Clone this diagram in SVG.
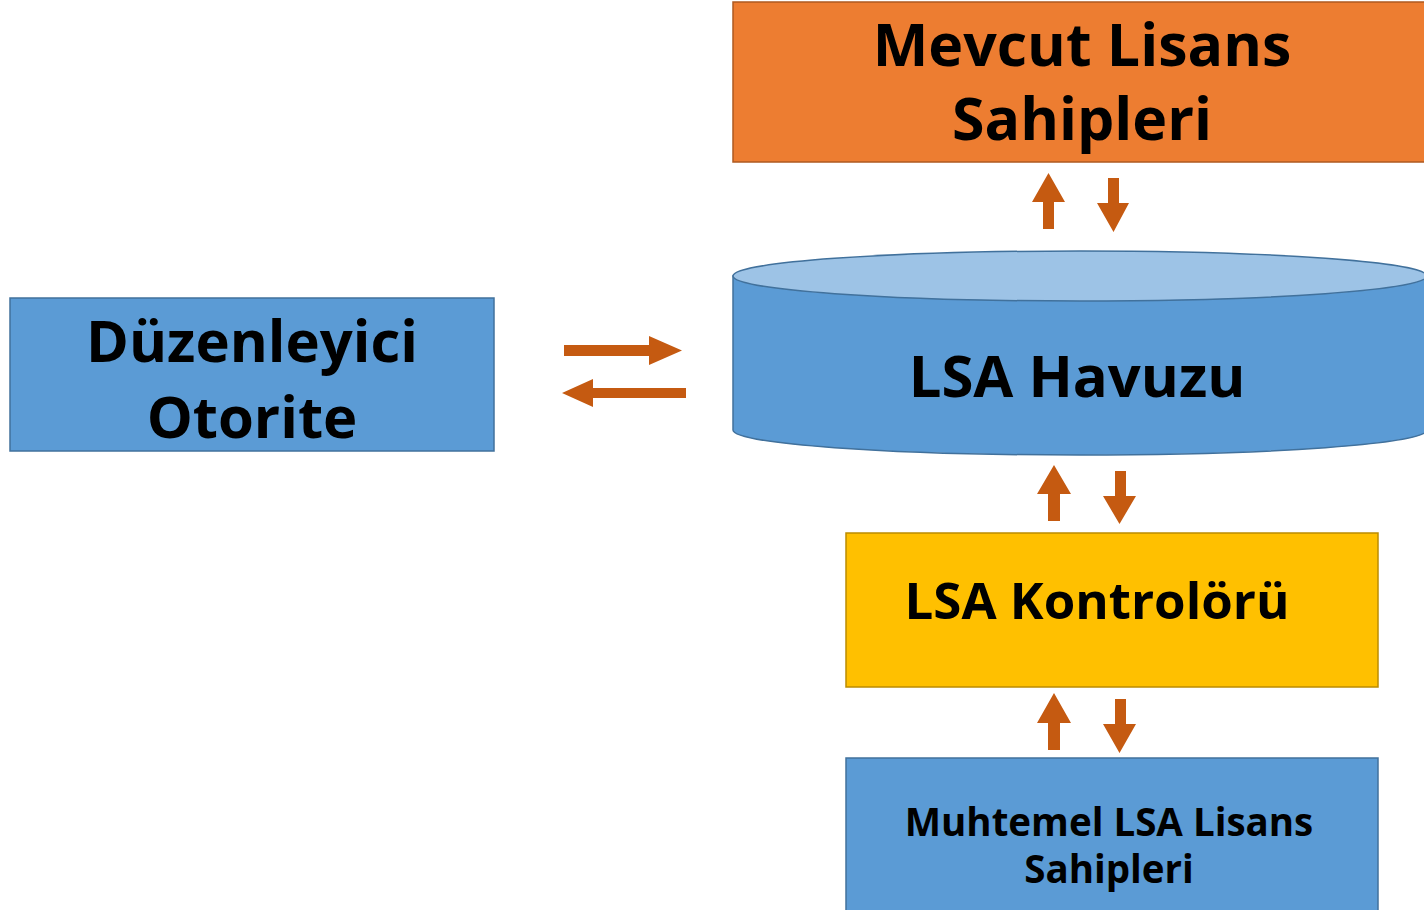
<svg xmlns="http://www.w3.org/2000/svg" width="1424" height="910" viewBox="0 0 1424 910">
<style>
.t{font-family:"Open Sans","Liberation Sans",sans-serif;font-weight:700;fill:#000;text-anchor:middle}
.blue{fill:#5B9BD5;stroke:#41719C;stroke-width:1.5}
.arr{fill:#C55A11}
</style>
<rect width="1424" height="910" fill="#fff"/>
<g id="mevcut">
<rect x="733" y="2" width="700" height="160" fill="#ED7D31" stroke="#AE5A21" stroke-width="1.5"/>
<text class="t" x="1082" y="66" font-size="59">Mevcut Lisans</text>
<text class="t" x="1082" y="140" font-size="59">Sahipleri</text>
</g>
<g id="duzenleyici">
<rect class="blue" x="10" y="298" width="484" height="153"/>
<text class="t" x="252" y="362" font-size="58">Düzenleyici</text>
<text class="t" x="252" y="438" font-size="58">Otorite</text>
</g>
<g id="havuz">
<path class="blue" d="M733,276 L733,430 A347,25 0 0 0 1427,430 L1427,276 Z"/>
<ellipse cx="1080" cy="276" rx="347" ry="25" fill="#9DC3E6" stroke="#41719C" stroke-width="1.5"/>
<text class="t" x="1077" y="397" font-size="58">LSA Havuzu</text>
</g>
<g id="kontrolor">
<rect x="846" y="533" width="532" height="154" fill="#FFC000" stroke="#BC8C00" stroke-width="1.5"/>
<text class="t" x="1097" y="619" font-size="51">LSA Kontrolörü</text>
</g>
<g id="muhtemel">
<rect class="blue" x="846" y="758" width="532" height="160"/>
<text class="t" x="1109" y="836" font-size="38.5">Muhtemel LSA Lisans</text>
<text class="t" x="1109" y="883" font-size="38.5">Sahipleri</text>
</g>
<g id="connectors">
<polygon class="arr" points="564,345 649,345 649,336 682,350.5 649,365 649,356 564,356"/>
<polygon class="arr" points="686,388 593,388 593,379 562,393 593,407 593,398 686,398"/>
<polygon class="arr" points="1043,229 1043,202 1032,202 1048.5,173 1065,202 1054,202 1054,229"/>
<polygon class="arr" points="1108,178 1119,178 1119,203 1129,203 1113.5,232 1097,203 1108,203"/>
<polygon class="arr" points="1048,521 1048,494 1037,494 1054,465 1071,494 1060,494 1060,521"/>
<polygon class="arr" points="1115,471 1126,471 1126,496 1136,496 1119.5,524 1103,496 1115,496"/>
<polygon class="arr" points="1048,750 1048,723 1037,723 1054,693 1071,723 1060,723 1060,750"/>
<polygon class="arr" points="1115,699 1126,699 1126,724 1136,724 1119.5,753 1103,724 1115,724"/>
</g>
</svg>
